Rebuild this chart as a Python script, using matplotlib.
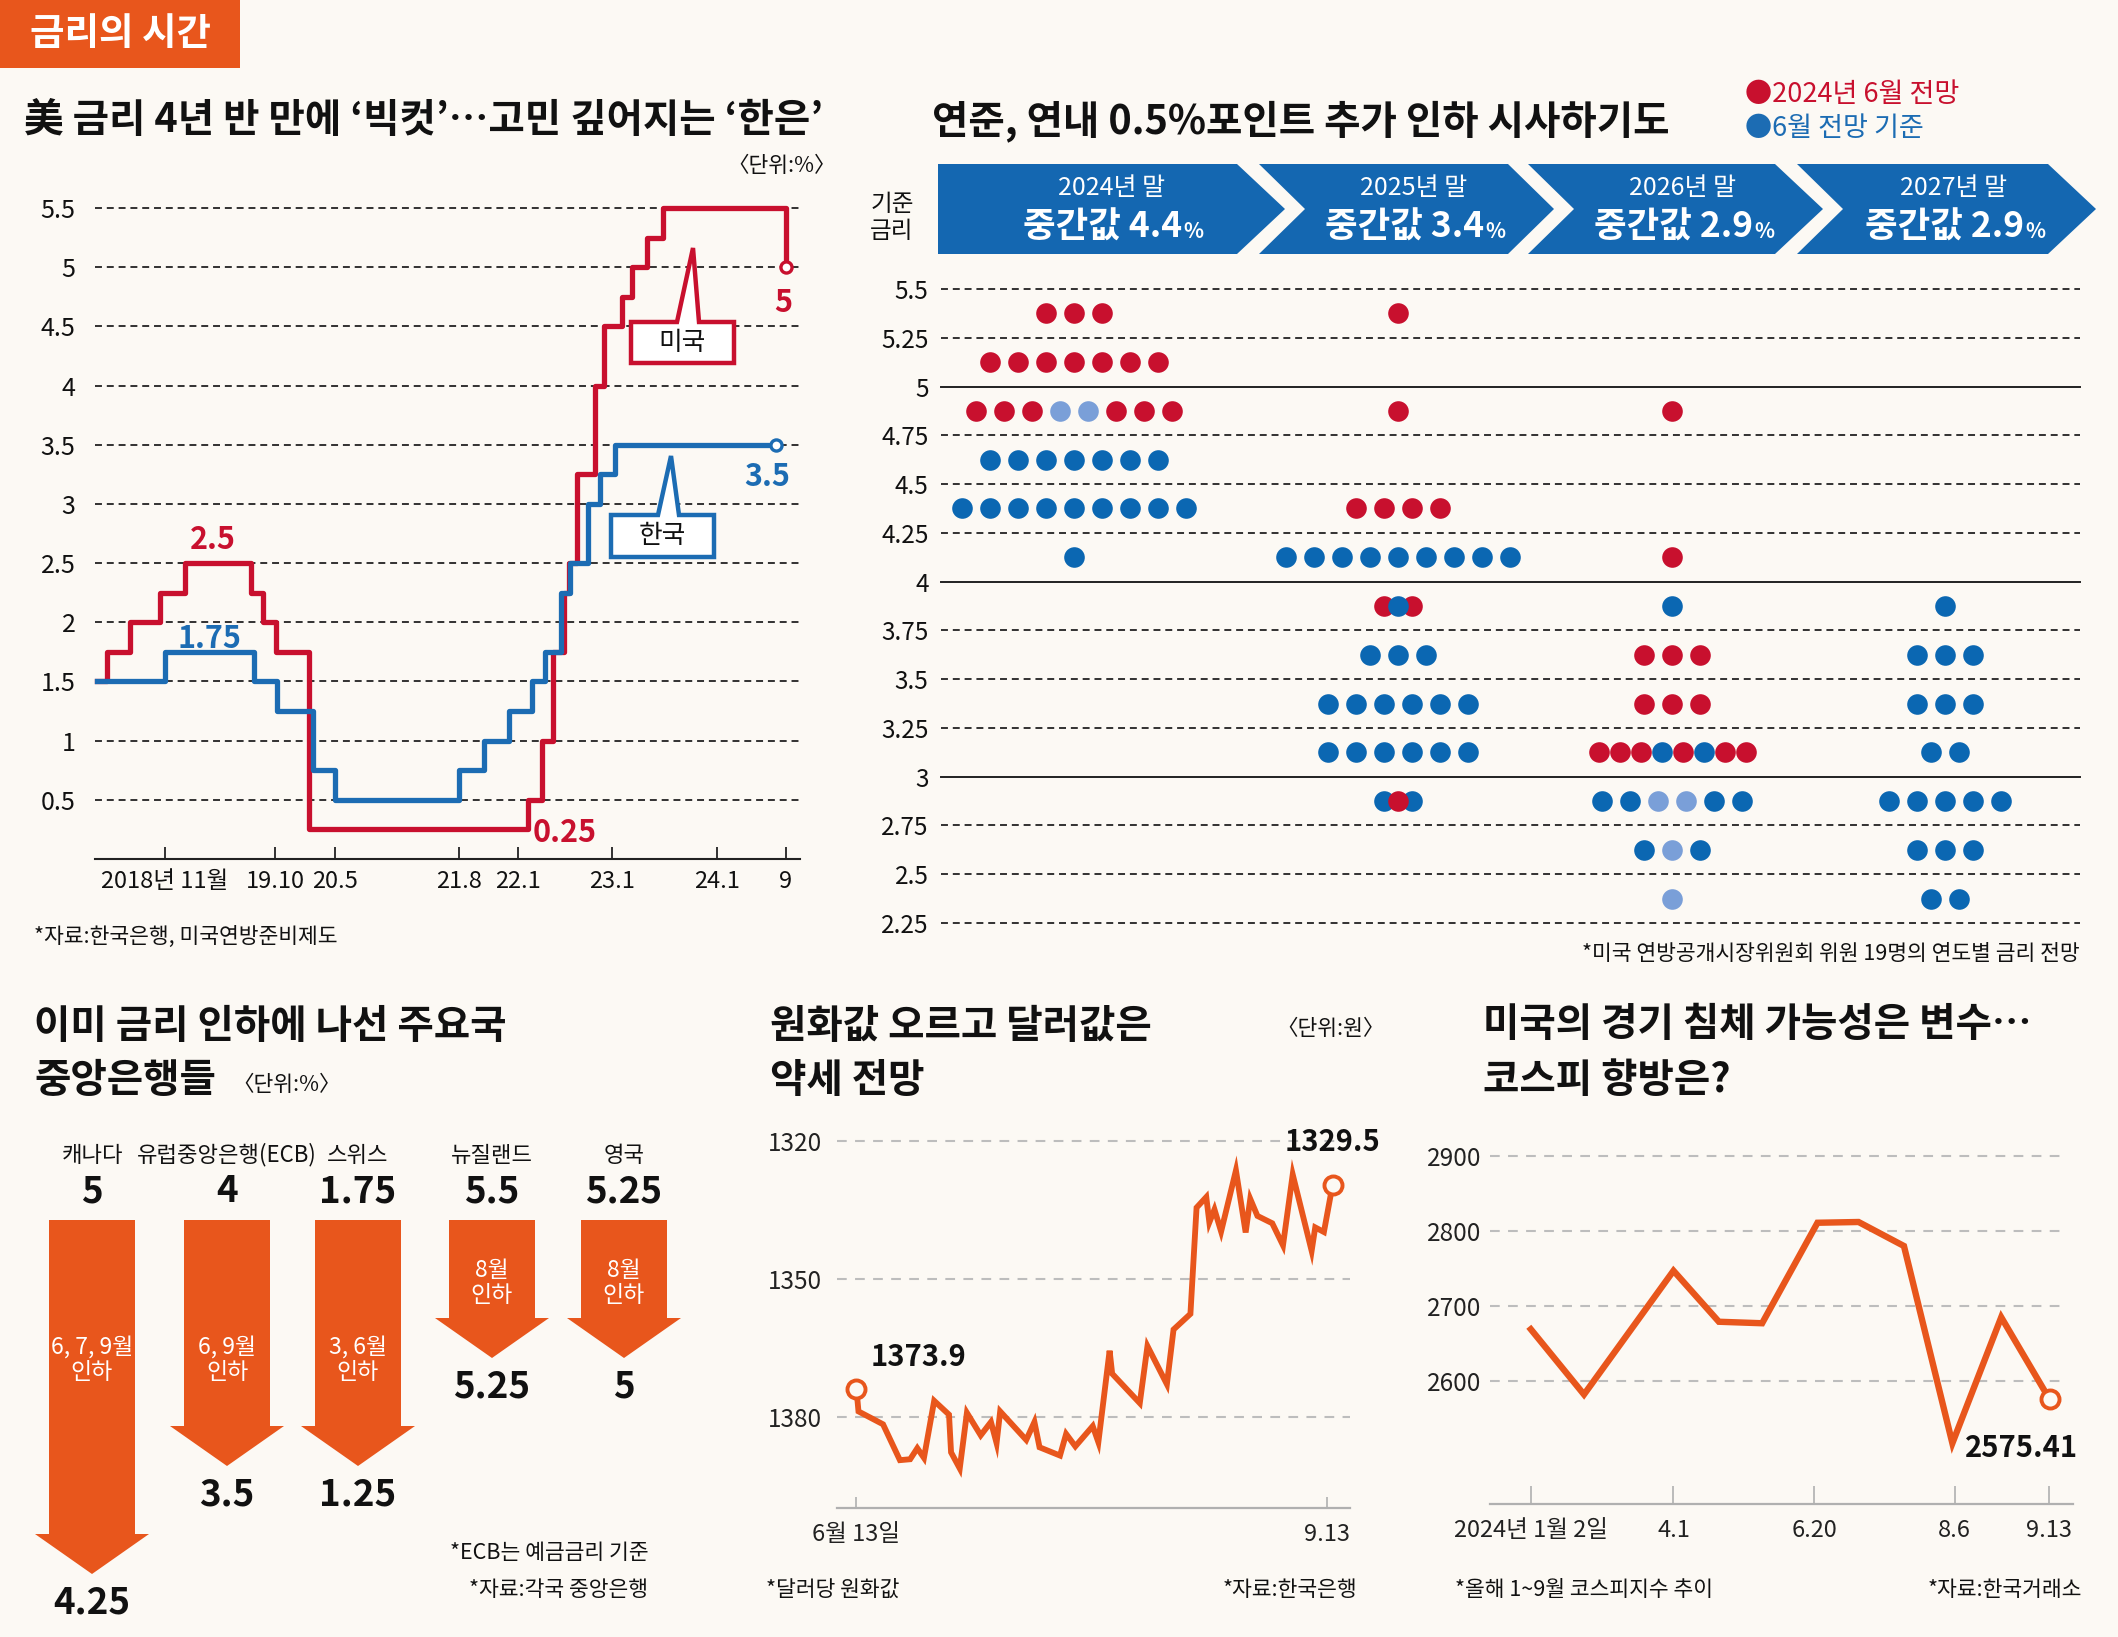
import matplotlib
matplotlib.use('Agg')
import matplotlib.pyplot as plt
from matplotlib.patches import Polygon, Rectangle
import numpy as np

plt.rcParams['font.family'] = ['Noto Sans CJK KR', 'DejaVu Sans']
plt.rcParams['lines.scale_dashes'] = False
plt.rcParams['axes.unicode_minus'] = False

W, H, DPI = 2118, 1637, 100
BG = '#FCF9F4'
ORANGE = '#E8561C'
RED = '#C8102E'
BLUE = '#1C6CB3'
DOT_BLUE = '#0B67B2'
LIGHT_BLUE = '#7A9FD8'
BANNER = '#1467B1'
INK = '#111111'
GRAYLINE = '#BDBDBD'
TITLE_SIZE = 28.5

# ---------------- data ----------------
# chart 1: policy rates (x in chart month units)
us_x = [2.3, 3.4, 6.1, 9.4, 12.2, 19.7, 21.0, 22.5, 26.2, 50.9, 52.5, 53.7,
        55.0, 55.6, 56.5, 58.5, 59.5, 61.5, 62.6, 64.4, 66.2, 80.0]
us_y = [1.5, 1.75, 2.0, 2.25, 2.5, 2.25, 2.0, 1.75, 0.25, 0.5, 1.0, 1.75,
        2.25, 2.5, 3.25, 4.0, 4.5, 4.75, 5.0, 5.25, 5.5, 5.0]
kr_x = [2.3, 10.0, 20.0, 22.6, 26.7, 29.2, 43.2, 46.0, 48.8, 51.4, 52.8,
        54.6, 55.7, 57.7, 59.1, 60.75, 78.9]
kr_y = [1.5, 1.75, 1.5, 1.25, 0.75, 0.5, 0.75, 1.0, 1.25, 1.5, 1.75,
        2.25, 2.5, 3.0, 3.25, 3.5, 3.5]
rate_tick_pos = [10, 22.45, 29.2, 43.2, 49.8, 60.4, 72.2, 80.0]
rate_tick_labels = ['2018년 11월', '19.10', '20.5', '21.8', '22.1', '23.1', '24.1', '9']
rate_yticks = [0.5, 1, 1.5, 2, 2.5, 3, 3.5, 4, 4.5, 5, 5.5]

# chart 2: FOMC dot plot (R = June 2024, B = Sept basis, L = overlap)
dot_years = ['2024년 말', '2025년 말', '2026년 말', '2027년 말']
dot_medians = ['4.4', '3.4', '2.9', '2.9']
dots_2024 = {5.375: 'RRR', 5.125: 'RRRRRRR', 4.875: 'RRRLLRRR',
             4.625: 'BBBBBBB', 4.375: 'BBBBBBBBB', 4.125: 'B'}
dots_2025 = {5.375: 'R', 4.875: 'R', 4.375: 'RRRR', 4.125: 'BBBBBBBBB',
             3.875: 'RBR', 3.625: 'BBB', 3.375: 'BBBBBB', 3.125: 'BBBBBB',
             2.875: 'BRB'}
dots_2026 = {4.875: 'R', 4.125: 'R', 3.875: 'B', 3.625: 'RRR', 3.375: 'RRR',
             3.125: 'RRRBRBRR', 2.875: 'BBLLBB', 2.625: 'BLB', 2.375: 'L'}
dots_2027 = {3.875: 'B', 3.625: 'BBB', 3.375: 'BBB', 3.125: 'BB',
             2.875: 'BBBBB', 2.625: 'BBB', 2.375: 'BB'}
dot_levels = [2.25, 2.5, 2.75, 3, 3.25, 3.5, 3.75, 4, 4.25, 4.5, 4.75, 5, 5.25, 5.5]

# chart 3: central banks
cb_names = ['캐나다', '유럽중앙은행(ECB)', '스위스', '뉴질랜드', '영국']
cb_before = [5, 4, 1.75, 5.5, 5.25]
cb_after = [4.25, 3.5, 1.25, 5.25, 5]
cb_months = ['6, 7, 9월', '6, 9월', '3, 6월', '8월', '8월']

# chart 4: KRW per USD (x = days from 6/13)
fx_day = [0, 0.4, 5.2, 8.5, 10.5, 11.9, 13.2, 15.2, 18.1, 18.5, 20.2, 21.6,
          24.3, 26.3, 27.4, 28.1, 33.2, 34.8, 35.8, 39.8, 41.0, 42.8, 46.2,
          47.3, 49.5, 50.0, 55.4, 56.9, 60.7, 62.0, 65.3, 66.5, 68.4, 69.0,
          70.0, 71.3, 74.2, 76.1, 77.0, 78.4, 81.3, 83.4, 85.3, 89.0, 89.7,
          91.4, 93.1]
fx_val = [1373.9, 1378.8, 1381.6, 1389.4, 1389.2, 1386.8, 1388.9, 1376.5,
          1379.5, 1387.7, 1391.2, 1379.1, 1384.0, 1381.1, 1385.7, 1378.8,
          1385.0, 1381.1, 1386.6, 1388.4, 1383.7, 1386.4, 1382.0, 1385.5,
          1365.6, 1370.6, 1377.0, 1364.6, 1372.9, 1361.0, 1357.6, 1334.5,
          1332.2, 1337.7, 1334.9, 1339.7, 1326.4, 1339.9, 1332.6, 1336.3,
          1337.9, 1342.7, 1327.3, 1343.9, 1338.8, 1339.8, 1329.5]
fx_yticks = [1320, 1350, 1380]
fx_tick_pos = [0, 92]
fx_tick_labels = ['6월 13일', '9.13']

# chart 5: KOSPI
kospi_pos = [0, 1.23, 3.3, 4.35, 5.35, 6.63, 7.58, 8.63, 9.75, 10.88, 12.0]
kospi_val = [2669, 2582, 2747, 2679, 2677, 2811, 2812, 2780, 2517, 2685, 2575.41]
kospi_yticks = [2600, 2700, 2800, 2900]
kospi_tick_pos = [0, 3.3, 6.56, 9.8, 11.98]
kospi_tick_labels = ['2024년 1월 2일', '4.1', '6.20', '8.6', '9.13']

# ---------------- figure ----------------
fig = plt.figure(figsize=(W / DPI, H / DPI), dpi=DPI, facecolor=BG)


def px_axes(x0, y0, x1, y1, z=1):
    ax = fig.add_axes([x0 / W, 1 - y1 / H, (x1 - x0) / W, (y1 - y0) / H], zorder=z)
    ax.patch.set_alpha(0)
    return ax


ov = px_axes(0, 0, W, H, z=10)
ov.set_xlim(0, W)
ov.set_ylim(H, 0)
ov.axis('off')


def T(x, y, s, size, ha='left', va='center', weight='normal', color=INK, **kw):
    return ov.text(x, y, s, fontsize=size, ha=ha, va=va, fontweight=weight,
                   color=color, **kw)


# badge
ov.add_patch(Rectangle((0, 0), 240, 68, color=ORANGE, lw=0))
T(120, 33, '금리의 시간', 27, ha='center', weight='bold', color='white')

# ---------- chart 1 ----------
T(24, 121, "美 금리 4년 반 만에 ‘빅컷’…고민 깊어지는 ‘한은’", TITLE_SIZE, weight='bold')
T(836, 166, '〈단위:%〉', 15.5, ha='right')
ax1 = px_axes(95, 208, 800, 859)
ax1.set_xlim(2.1, 81.6)
ax1.set_ylim(0, 5.5)
for v in rate_yticks:
    ax1.axhline(v, color='#222222', lw=1.3, ls=(0, (5, 3.5)), zorder=1, clip_on=False)
ax1.step(us_x, us_y, where='post', color=RED, lw=3.8, clip_on=False, zorder=3)
ax1.step(kr_x, kr_y, where='post', color=BLUE, lw=3.8, clip_on=False, zorder=4)
ax1.plot(us_x[-1], us_y[-1], 'o', mfc='white', mec=RED, ms=8, mew=2.4, clip_on=False, zorder=5)
ax1.plot(kr_x[-1], kr_y[-1], 'o', mfc='white', mec=BLUE, ms=8, mew=2.4, clip_on=False, zorder=5)
for s in ['top', 'left', 'right']:
    ax1.spines[s].set_visible(False)
ax1.spines['bottom'].set_linewidth(1.5)
ax1.spines['bottom'].set_color('#222222')
ax1.set_yticks(rate_yticks)
ax1.set_yticklabels([f'{v:g}' for v in rate_yticks])
ax1.tick_params(axis='y', length=0, pad=14, labelsize=18, labelcolor=INK)
ax1.set_xticks(rate_tick_pos)
ax1.set_xticklabels(rate_tick_labels)
ax1.tick_params(axis='x', direction='in', length=9, width=1.3, pad=8, labelsize=17,
                labelcolor=INK, color='#222222')
ax1.text(15.4, 2.56, '2.5', color=RED, fontsize=22, fontweight='bold', ha='center', va='bottom')
ax1.text(15.0, 1.72, '1.75', color=BLUE, fontsize=22, fontweight='bold', ha='center', va='bottom')
ax1.text(55.1, 0.22, '0.25', color=RED, fontsize=22, fontweight='bold', ha='center', va='center')
ax1.text(79.7, 4.70, '5', color=RED, fontsize=22, fontweight='bold', ha='center', va='center')
ax1.text(77.9, 3.23, '3.5', color=BLUE, fontsize=22, fontweight='bold', ha='center', va='center')

# callouts
ov.add_patch(Polygon([(631, 322), (677, 322), (693, 248), (699, 322), (734, 322),
                      (734, 363), (631, 363)], closed=True, fc='white', ec=RED, lw=3.2, zorder=5))
T(682, 343, '미국', 18.5, ha='center', zorder=6)
ov.add_patch(Polygon([(611, 515), (658, 515), (671, 456), (679, 515), (714, 515),
                      (714, 557), (611, 557)], closed=True, fc='white', ec=BLUE, lw=3.2, zorder=5))
T(662, 536, '한국', 18.5, ha='center', zorder=6)
T(34, 937, '*자료:한국은행, 미국연방준비제도', 15.5)

# ---------- chart 2 : dot plot ----------
T(932, 121, '연준, 연내 0.5%포인트 추가 인하 시사하기도', TITLE_SIZE, weight='bold')
T(1745, 95, '●2024년 6월 전망', 19.5, color=RED)
T(1745, 128, '●6월 전망 기준', 19.5, color=BLUE)
T(892, 218, '기준\n금리', 17, ha='center', linespacing=1.25)

chevrons = [(938, 0, 1237, 1285), (1259, 46, 1508, 1554),
            (1528, 46, 1775, 1823), (1797, 46, 2048, 2096)]
renderer = fig.canvas.get_renderer()
for (L, d, R, Tp), yr, med in zip(chevrons, dot_years, dot_medians):
    ov.add_patch(Polygon([(L, 164), (R, 164), (Tp, 209), (R, 254), (L, 254), (L + d, 209)],
                         closed=True, fc=BANNER, ec='none', zorder=2))
    cx = (L + Tp) / 2 + d * 0.15
    T(cx, 188, yr, 18, ha='center', color='white', zorder=3)
    t = T(cx - 9, 238, f'중간값 {med}', 25.5, ha='center', va='baseline', weight='bold',
          color='white', zorder=3)
    bb = t.get_window_extent(renderer=renderer)
    x_right = ov.transData.inverted().transform((bb.x1, bb.y0))[0]
    T(x_right + 1, 238, '%', 15, ha='left', va='baseline', weight='bold', color='white', zorder=3)

axd = px_axes(941, 289, 2080, 923)
axd.set_xlim(941, 2080)
axd.set_ylim(2.25, 5.5)
for v in dot_levels:
    if v in (3, 4, 5):
        axd.axhline(v, color='#222222', lw=1.4, zorder=1, clip_on=False)
    else:
        axd.axhline(v, color='#222222', lw=1.3, ls=(0, (5, 3.5)), zorder=1, clip_on=False)
for s in axd.spines.values():
    s.set_visible(False)
axd.set_xticks([])
axd.set_yticks(dot_levels)
axd.set_yticklabels([f'{v:g}' for v in dot_levels])
axd.tick_params(axis='y', length=0, pad=9, labelsize=17.5, labelcolor=INK)

col_centers = [1074, 1398, 1672, 1945]
dot_step = 28
tight = {(1, 3.875): 0.5, (1, 2.875): 0.5, (2, 3.125): 0.75}
cmap = {'R': RED, 'B': DOT_BLUE, 'L': LIGHT_BLUE}
for i, rows in enumerate([dots_2024, dots_2025, dots_2026, dots_2027]):
    for lvl, pat in rows.items():
        n = len(pat)
        sp = dot_step * tight.get((i, lvl), 1.0)
        xs = col_centers[i] + (np.arange(n) - (n - 1) / 2) * sp
        counts = {c: pat.count(c) for c in set(pat)}
        order = sorted(counts, key=lambda c: -counts[c])
        for z, c in enumerate(order):
            idx = [k for k, ch in enumerate(pat) if ch == c]
            axd.scatter(xs[idx], [lvl] * len(idx), s=220, color=cmap[c], lw=0,
                        zorder=3 + z, clip_on=False)
T(2080, 954, '*미국 연방공개시장위원회 위원 19명의 연도별 금리 전망', 15.5, ha='right')

# ---------- chart 3 : central banks ----------
T(34, 1027, '이미 금리 인하에 나선 주요국', TITLE_SIZE, weight='bold')
T(34, 1081, '중앙은행들', TITLE_SIZE, weight='bold')
T(232, 1085, '〈단위:%〉', 15.5)
cb_centers = [92, 227, 358, 492, 624]
top = 1220
for cx, name, b, a, mtxt in zip(cb_centers, cb_names, cb_before, cb_after, cb_months):
    total = 30 + 432 * (b - a)
    tip = top + total
    hb = tip - 40
    ov.add_patch(Polygon([(cx - 43, top), (cx + 43, top), (cx + 43, hb), (cx + 57, hb),
                          (cx, tip), (cx - 57, hb), (cx - 43, hb)], closed=True,
                         fc=ORANGE, ec='none', zorder=2))
    T(cx, 1155, name, 16, ha='center')
    T(cx, 1192, f'{b:g}', 26.5, ha='center', weight='bold')
    T(cx, top + min(140, 63 + 0.75 * (total - 138)), f'{mtxt}\n인하', 16.5, ha='center',
      color='white', linespacing=1.1, zorder=3)
    T(cx, tip + 29, f'{a:g}', 26.5, ha='center', weight='bold')
T(648, 1553, '*ECB는 예금금리 기준', 15.5, ha='right')
T(648, 1590, '*자료:각국 중앙은행', 15.5, ha='right')

# ---------- chart 4 : FX ----------
T(770, 1027, '원화값 오르고 달러값은', TITLE_SIZE, weight='bold')
T(770, 1081, '약세 전망', TITLE_SIZE, weight='bold')
T(1385, 1029, '〈단위:원〉', 15.5, ha='right')
axf = px_axes(837, 1100, 1350, 1508)
axf.set_xlim(-3.8, 96.5)
axf.set_ylim(1399.8, 1311.1)
for v in fx_yticks:
    axf.axhline(v, color=GRAYLINE, lw=1.5, ls=(0, (7, 6)), zorder=1)
axf.plot(fx_day, fx_val, color=ORANGE, lw=4.2, zorder=3, solid_joinstyle='miter')
axf.plot([fx_day[0], fx_day[-1]], [fx_val[0], fx_val[-1]], 'o', mfc=BG, mec=ORANGE,
         ms=13, mew=2.8, zorder=4, clip_on=False)
axf.annotate(f'{fx_val[0]:g}', (fx_day[0], fx_val[0]), xytext=(45, 23),
             textcoords='offset points', ha='center', va='center', fontsize=21,
             fontweight='bold', color=INK)
axf.annotate(f'{fx_val[-1]:g}', (fx_day[-1], fx_val[-1]), xytext=(0, 31),
             textcoords='offset points', ha='center', va='center', fontsize=21,
             fontweight='bold', color=INK)
for s in ['top', 'left', 'right']:
    axf.spines[s].set_visible(False)
axf.spines['bottom'].set_color('#B0B0B0')
axf.spines['bottom'].set_linewidth(1.6)
axf.set_yticks(fx_yticks)
axf.set_yticklabels([str(v) for v in fx_yticks])
axf.tick_params(axis='y', length=0, pad=11, labelsize=17.5, labelcolor='#222222')
axf.set_xticks(fx_tick_pos)
axf.set_xticklabels(fx_tick_labels)
axf.tick_params(axis='x', direction='in', length=8, width=1.2, color='#B0B0B0', pad=11,
                labelsize=17, labelcolor='#222222')
T(766, 1590, '*달러당 원화값', 15.5)
T(1357, 1590, '*자료:한국은행', 15.5, ha='right')

# ---------- chart 5 : KOSPI ----------
T(1483, 1025, '미국의 경기 침체 가능성은 변수…', TITLE_SIZE, weight='bold')
T(1483, 1081, '코스피 향방은?', TITLE_SIZE, weight='bold')
axk = px_axes(1490, 1120, 2073, 1504)
axk.set_xlim(-0.944, 12.54)
axk.set_ylim(2436, 2948)
for v in kospi_yticks:
    axk.axhline(v, xmax=0.99, color=GRAYLINE, lw=1.5, ls=(0, (7, 6)), zorder=1)
axk.plot(kospi_pos, kospi_val, color=ORANGE, lw=4.6, zorder=3, solid_joinstyle='miter')
axk.plot(kospi_pos[-1], kospi_val[-1], 'o', mfc=BG, mec=ORANGE, ms=13, mew=2.8, zorder=4,
         clip_on=False)
axk.annotate(f'{kospi_val[-1]:.2f}', (kospi_pos[-1], kospi_val[-1]), xytext=(-20, -35),
             textcoords='offset points', ha='center', va='center', fontsize=21,
             fontweight='bold', color=INK)
for s in ['top', 'left', 'right']:
    axk.spines[s].set_visible(False)
axk.spines['bottom'].set_color('#B0B0B0')
axk.spines['bottom'].set_linewidth(1.6)
axk.set_yticks(kospi_yticks)
axk.set_yticklabels([str(v) for v in kospi_yticks])
axk.tick_params(axis='y', length=0, pad=6, labelsize=17.5, labelcolor='#222222')
axk.set_xticks(kospi_tick_pos)
axk.set_xticklabels(kospi_tick_labels)
axk.tick_params(axis='x', direction='in', length=13, width=1.2, color='#B0B0B0', pad=11,
                labelsize=17, labelcolor='#222222')
T(1455, 1590, '*올해 1~9월 코스피지수 추이', 15.5)
T(2082, 1590, '*자료:한국거래소', 15.5, ha='right')

fig.savefig('out.png', dpi=DPI, facecolor=BG)
